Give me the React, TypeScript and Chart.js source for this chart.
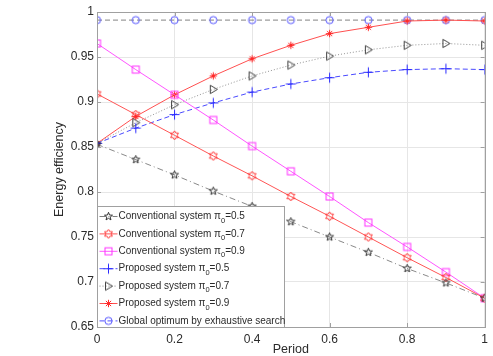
import React, { useEffect, useRef } from "react";
import { Chart, registerables } from "chart.js";

Chart.register(...registerables);

// ---------- data ----------
const periods = [0, 0.1, 0.2, 0.3, 0.4, 0.5, 0.6, 0.7, 0.8, 0.9, 1.0];
const convPi05 = [0.853, 0.836, 0.819, 0.801, 0.784, 0.767, 0.75, 0.733, 0.715, 0.699, 0.682];
const convPi07 = [0.909, 0.886, 0.863, 0.84, 0.818, 0.795, 0.773, 0.75, 0.727, 0.705, 0.682];
const convPi09 = [0.965, 0.936, 0.908, 0.88, 0.851, 0.823, 0.795, 0.766, 0.739, 0.711, 0.682];
const propPi05 = [0.854, 0.871, 0.886, 0.899, 0.911, 0.92, 0.927, 0.933, 0.936, 0.937, 0.936];
const propPi07 = [0.854, 0.877, 0.897, 0.914, 0.929, 0.941, 0.951, 0.958, 0.963, 0.965, 0.963];
const propPi09 = [0.854, 0.884, 0.908, 0.929, 0.948, 0.963, 0.976, 0.983, 0.99, 0.991, 0.99];
const globalOpt = [0.991, 0.991, 0.991, 0.991, 0.991, 0.991, 0.991, 0.991, 0.991, 0.991, 0.991];

const legendMain = [
  "Conventional system \u03C0",
  "Conventional system \u03C0",
  "Conventional system \u03C0",
  "Proposed system \u03C0",
  "Proposed system \u03C0",
  "Proposed system \u03C0",
  "Global optimum by exhaustive search",
];
const legendSub = ["0", "0", "0", "0", "0", "0", ""];
const legendSuffix = ["=0.5", "=0.7", "=0.9", "=0.5", "=0.7", "=0.9", ""];

const xTitle = "Period";
const yTitle = "Energy efficiency";
const yMin = 0.65;
const yMax = 1;
const yStep = 0.05;
const xStep = 0.2;

const FONT = "'Liberation Sans', Arial, sans-serif";
const TEXT = "#2b2b2b";
const AXIS = "#a0a0a0";

// ---------- marker images ----------
function mk(draw: (ctx: CanvasRenderingContext2D, c: number) => void, size = 13) {
  const cv = document.createElement("canvas");
  cv.width = size;
  cv.height = size;
  const ctx = cv.getContext("2d")!;
  ctx.lineWidth = 1;
  draw(ctx, size / 2);
  return cv;
}
function starPath(ctx: CanvasRenderingContext2D, c: number, n: number, rO: number, rI: number) {
  ctx.beginPath();
  for (let i = 0; i < 2 * n; i++) {
    const r = i % 2 === 0 ? rO : rI;
    const a = -Math.PI / 2 + (i * Math.PI) / n;
    const x = c + r * Math.cos(a);
    const y = c + r * Math.sin(a);
    if (i === 0) ctx.moveTo(x, y);
    else ctx.lineTo(x, y);
  }
  ctx.closePath();
}
function makeMarkers() {
  const pent = mk((ctx, c) => {
    ctx.strokeStyle = "#333";
    starPath(ctx, c, 5, 4.2, 1.8);
    ctx.stroke();
  });
  const hex = mk((ctx, c) => {
    ctx.strokeStyle = "#ff3a3a";
    starPath(ctx, c, 6, 4.5, 2.7);
    ctx.stroke();
  });
  const square = mk((ctx, c) => {
    ctx.strokeStyle = "#ff30ff";
    ctx.strokeRect(c - 3.5, c - 3.5, 7, 7);
  });
  const plus = mk((ctx, c) => {
    ctx.strokeStyle = "#2a2aff";
    ctx.beginPath();
    ctx.moveTo(c - 5, c);
    ctx.lineTo(c + 5, c);
    ctx.moveTo(c, c - 5);
    ctx.lineTo(c, c + 5);
    ctx.stroke();
  });
  const tri = mk((ctx, c) => {
    ctx.strokeStyle = "#444";
    ctx.beginPath();
    ctx.moveTo(c - 3, c - 4.2);
    ctx.lineTo(c + 4, c);
    ctx.lineTo(c - 3, c + 4.2);
    ctx.closePath();
    ctx.stroke();
  });
  const ast = mk((ctx, c) => {
    ctx.strokeStyle = "#ff2a2a";
    ctx.beginPath();
    const r = 3.7;
    const d = r * 0.707;
    ctx.moveTo(c - r, c);
    ctx.lineTo(c + r, c);
    ctx.moveTo(c, c - r);
    ctx.lineTo(c, c + r);
    ctx.moveTo(c - d, c - d);
    ctx.lineTo(c + d, c + d);
    ctx.moveTo(c - d, c + d);
    ctx.lineTo(c + d, c - d);
    ctx.stroke();
  });
  const circ = mk((ctx, c) => {
    ctx.strokeStyle = "#5050ff";
    ctx.beginPath();
    ctx.arc(c, c, 3.6, 0, Math.PI * 2);
    ctx.stroke();
  });
  return { pent, hex, square, plus, tri, ast, circ };
}

export default function App() {
  const ref = useRef<HTMLCanvasElement | null>(null);

  useEffect(() => {
    if (!ref.current) return;
    const m = makeMarkers();
    const toPts = (vals: number[]) => periods.map((x, i) => ({ x, y: vals[i] }));

    const specs = [
      { vals: convPi05, color: "rgba(40,40,40,0.55)", legendColor: "rgba(40,40,40,0.6)", dash: [6, 3, 1, 3], img: m.pent },
      { vals: convPi07, color: "#ff5555", legendColor: "#ff5555", dash: [], img: m.hex },
      { vals: convPi09, color: "#ff55ff", legendColor: "#ff55ff", dash: [], img: m.square },
      { vals: propPi05, color: "#4a4aff", legendColor: "#4a4aff", dash: [5, 3], img: m.plus },
      { vals: propPi07, color: "rgba(60,60,60,0.55)", legendColor: "rgba(60,60,60,0.6)", dash: [1, 2], img: m.tri },
      { vals: propPi09, color: "#ff5050", legendColor: "#ff5050", dash: [], img: m.ast },
      { vals: globalOpt, color: "rgba(90,90,90,0.75)", legendColor: "#5050ff", dash: [5, 3], img: m.circ },
    ];

    const datasets = specs.map((s, i) => ({
      label: legendMain[i] + legendSub[i] + legendSuffix[i],
      data: toPts(s.vals),
      borderColor: s.color,
      backgroundColor: "transparent",
      borderWidth: 1,
      borderDash: s.dash,
      pointStyle: s.img as any,
      pointRadius: 4,
      pointHoverRadius: 4,
      fill: false,
      tension: 0,
    }));

    const boxPlugin = {
      id: "matlabBox",
      afterDatasetsDraw(chart: any) {
        const { ctx, chartArea: a, scales } = chart;
        ctx.save();
        ctx.strokeStyle = AXIS;
        ctx.lineWidth = 1;
        ctx.setLineDash([]);
        ctx.strokeRect(Math.round(a.left) + 0.5, Math.round(a.top) + 0.5, Math.round(a.right - a.left), Math.round(a.bottom - a.top));
        const tl = 4;
        ctx.beginPath();
        scales.y.ticks.forEach((t: any) => {
          const y = Math.round(scales.y.getPixelForValue(t.value)) + 0.5;
          ctx.moveTo(a.left, y);
          ctx.lineTo(a.left + tl, y);
          ctx.moveTo(a.right, y);
          ctx.lineTo(a.right - tl, y);
        });
        scales.x.ticks.forEach((t: any) => {
          const x = Math.round(scales.x.getPixelForValue(t.value)) + 0.5;
          ctx.moveTo(x, a.bottom);
          ctx.lineTo(x, a.bottom - tl);
          ctx.moveTo(x, a.top);
          ctx.lineTo(x, a.top + tl);
        });
        ctx.stroke();

        // legend
        const bx = Math.round(a.left) + 0.5;
        const by = 206.5;
        const bw = 187;
        const bh = Math.round(a.bottom) - 206;
        ctx.fillStyle = "#ffffff";
        ctx.fillRect(bx, by, bw, bh);
        ctx.strokeStyle = AXIS;
        ctx.strokeRect(bx, by, bw, bh);
        ctx.textBaseline = "middle";
        specs.forEach((s, i) => {
          const y = 216.5 + i * 17.4;
          ctx.strokeStyle = s.legendColor;
          ctx.setLineDash(s.dash);
          ctx.beginPath();
          ctx.moveTo(bx + 2, y);
          ctx.lineTo(bx + 20, y);
          ctx.stroke();
          ctx.setLineDash([]);
          const img = s.img;
          ctx.drawImage(img, bx + 11 - img.width / 2, y - img.height / 2);
          let x = bx + 21;
          ctx.fillStyle = TEXT;
          ctx.font = `10px ${FONT}`;
          ctx.fillText(legendMain[i], x, y);
          x += ctx.measureText(legendMain[i]).width;
          if (legendSub[i]) {
            ctx.font = `7.5px ${FONT}`;
            ctx.fillText(legendSub[i], x, y + 4);
            x += ctx.measureText(legendSub[i]).width;
            ctx.font = `10px ${FONT}`;
          }
          ctx.fillText(legendSuffix[i], x, y);
        });
        ctx.restore();
      },
    };

    const fmt = (v: any) => String(Number(Number(v).toFixed(2)));

    const chart = new Chart(ref.current, {
      type: "line",
      data: { datasets: datasets as any },
      options: {
        animation: false,
        responsive: false,
        maintainAspectRatio: false,
        devicePixelRatio: 1,
        layout: { padding: { top: 12, right: 4, left: 0, bottom: 0 } },
        plugins: { legend: { display: false }, tooltip: { enabled: false } },
        scales: {
          x: {
            type: "linear",
            min: 0,
            max: 1,
            ticks: {
              stepSize: xStep,
              color: TEXT,
              font: { family: FONT, size: 12 },
              padding: 5,
              maxRotation: 0,
              callback: fmt,
            },
            grid: { color: "#e6e6e6", drawTicks: false },
            border: { display: false },
            title: {
              display: true,
              text: xTitle,
              color: TEXT,
              font: { family: FONT, size: 12.5 },
              padding: { top: 0, bottom: -1 },
            },
            afterFit: (s: any) => {
              s.height = 29;
            },
          },
          y: {
            type: "linear",
            min: yMin,
            max: yMax,
            ticks: {
              stepSize: yStep,
              color: TEXT,
              font: { family: FONT, size: 12 },
              padding: 3,
              callback: fmt,
            },
            grid: { color: "#e6e6e6", drawTicks: false },
            border: { display: false },
            title: {
              display: true,
              text: yTitle,
              color: TEXT,
              font: { family: FONT, size: 12.5 },
              padding: { top: 52, bottom: 0 },
            },
            afterFit: (s: any) => {
              s.width = 97;
            },
          },
        },
      },
      plugins: [boxPlugin],
    });
    return () => chart.destroy();
  }, []);

  return (
    <div style={{ position: "fixed", left: 0, top: 0, width: 493, height: 356, background: "#fff" }}>
      <canvas ref={ref} width={493} height={356} style={{ width: 493, height: 356, display: "block" }} />
    </div>
  );
}
